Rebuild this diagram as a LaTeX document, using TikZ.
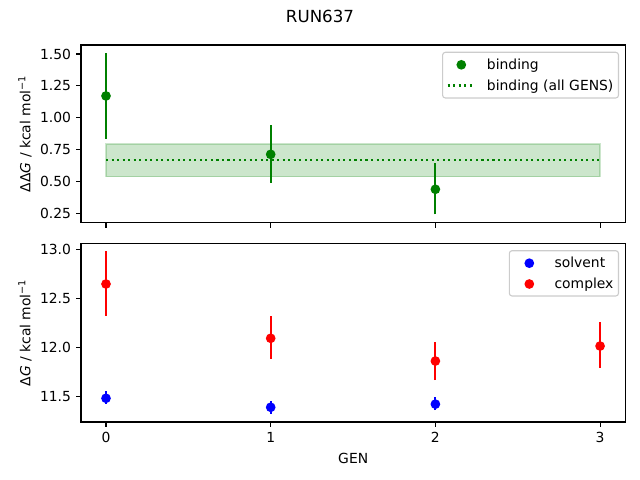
\documentclass[tikz,border=0pt]{standalone}
\usepackage{fontspec}
\setmainfont{DejaVu Sans}
\usepackage{tikz}
\usetikzlibrary{calc,positioning}
\definecolor{mplgreen}{HTML}{008000}
\definecolor{mplblue}{HTML}{0000FF}
\definecolor{mplred}{HTML}{FF0000}
\tikzset{
  spine/.style={line width=0.8pt, black},
  tickmark/.style={line width=0.8pt, black},
  ticklabel/.style={inner sep=0pt, font=\fontsize{10}{12}\selectfont},
  errbar/.style={line width=1.5pt},
  legendbox/.style={draw=black!20, line width=0.8pt, fill=white, fill opacity=0.8, rounded corners=2pt},
  allgens/.style={mplgreen, line width=1.5pt, dash pattern=on 1.5pt off 2.475pt}
}
\begin{document}
\begin{tikzpicture}[x=0.72pt,y=-0.72pt]
  \useasboundingbox (0,0) rectangle (640,480);
  \node[ticklabel, anchor=base, font=\fontsize{12}{14}\selectfont] (title) at (320,22) {RUN637};

  \begin{scope}[shift={(76.32pt,-176.58pt)}, x=118.58pt, y=91.8pt]
    \filldraw[fill=mplgreen, draw=mplgreen, fill opacity=0.2, draw opacity=0.2, line width=1pt] (0,0.538) rectangle (3,0.794);
    \draw[allgens] (0,0.666) -- (3,0.666);
    \foreach \g/\v/\hi/\lo in {0/1.171/1.5055/0.836, 1/0.713/0.941/0.491, 2/0.439/0.647/0.243}{
      \draw[errbar, mplgreen] (\g,\lo) -- (\g,\hi);
      \fill[mplgreen] (\g,\v) circle (3.5pt);
    }
    \draw[spine] (-0.152,0.1769) rectangle (3.153,1.5706);
    \foreach \g in {0,1,2,3}
      \draw[tickmark] (\g,0.1769) -- ++(0,-3.5pt);
    \foreach \v in {1.50,1.25,1.00,0.75,0.50,0.25}{
      \draw[tickmark] (-0.152,\v) -- ++(-3.5pt,0);
      \node[ticklabel, anchor=east, xshift=-7pt] (ttick\v) at (-0.152,\v) {\v};
    }
  \end{scope}
  \node[ticklabel, rotate=90, anchor=base] (toplabel) at (30.5,133.8) {ΔΔ\textit{G} / kcal mol\textsuperscript{−1}};

  \begin{scope}[shift={(76.32pt,-1096.78pt)}, x=118.58pt, y=70.56pt]
    \foreach \g/\v/\hi/\lo in {0/11.480/11.555/11.424, 1/11.388/11.450/11.324, 2/11.420/11.496/11.360}{
      \draw[errbar, mplblue] (\g,\lo) -- (\g,\hi);
      \fill[mplblue] (\g,\v) circle (3.5pt);
    }
    \foreach \g/\v/\hi/\lo in {0/12.646/12.983/12.322, 1/12.092/12.319/11.884, 2/11.860/12.054/11.666, 3/12.013/12.258/11.789}{
      \draw[errbar, mplred] (\g,\lo) -- (\g,\hi);
      \fill[mplred] (\g,\v) circle (3.5pt);
    }
    \draw[spine] (-0.152,11.2378) rectangle (3.153,13.061);
    \foreach \g in {0,1,2,3}{
      \draw[tickmark] (\g,11.2378) -- ++(0,-3.5pt);
      \node[ticklabel, anchor=north, yshift=-7pt] (btick\g) at (\g,11.2378) {\g};
    }
    \foreach \v in {13.0,12.5,12.0,11.5}{
      \draw[tickmark] (-0.152,\v) -- ++(-3.5pt,0);
      \node[ticklabel, anchor=east, xshift=-7pt] (ytick\v) at (-0.152,\v) {\v};
    }
  \end{scope}
  \node[ticklabel, rotate=90, anchor=base] (botlabel) at (30.5,332.7) {Δ\textit{G} / kcal mol\textsuperscript{−1}};
  \node[ticklabel, anchor=north] (genlabel) at (353.2,452.6) {GEN};

  \draw[legendbox] (442.6,52.3) rectangle (618.5,98);
  \fill[mplgreen] (461.3,64.8) circle (3.5pt);
  \draw[allgens] (447.7,85.5) -- (475.3,85.5);
  \node[ticklabel, anchor=base west] (leg1) at (486.7,69.3) {binding};
  \node[ticklabel, anchor=base west] (leg2) at (486.7,90) {binding (all GENS)};

  \draw[legendbox] (509.3,250.7) rectangle (618.5,296);
  \fill[mplblue] (529.3,263.2) circle (3.5pt);
  \fill[mplred] (529.3,284) circle (3.5pt);
  \node[ticklabel, anchor=base west] (leg3) at (554.3,267.6) {solvent};
  \node[ticklabel, anchor=base west] (leg4) at (554.3,288.4) {complex};
\end{tikzpicture}
\end{document}
